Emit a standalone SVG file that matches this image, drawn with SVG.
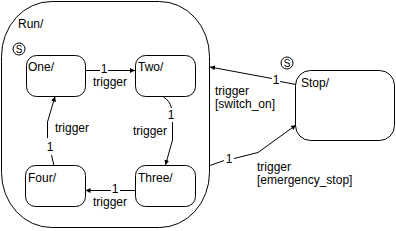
<svg xmlns="http://www.w3.org/2000/svg" width="396" height="231" viewBox="0 0 396 231">
<style>
text{font-family:"Liberation Sans",Arial,sans-serif;font-size:12px;fill:#000}
.st{fill:#fff;stroke:#000;stroke-width:1}
.ln{fill:none;stroke:#000;stroke-width:1}
.s{font-size:10px}
</style>
<defs>
<marker id="ah" markerWidth="6" markerHeight="6" refX="5" refY="3" orient="auto" markerUnits="userSpaceOnUse">
<path d="M0,0.5 L5,3 L0,5.5 Z" fill="#000"/>
</marker>
</defs>
<rect width="396" height="231" fill="#fff"/>
<g id="Run">
<rect class="st" x="1.5" y="1.5" width="208" height="226" rx="50" ry="55"/>
<text x="18" y="28">Run/</text>
<circle class="ln" cx="19" cy="49" r="6"/>
<text class="s" x="19" y="52.5" text-anchor="middle">S</text>
</g>
<g id="One">
<rect class="st" x="26.5" y="55.5" width="59" height="41" rx="10"/>
<text x="28" y="71">One/</text>
</g>
<g id="Two">
<rect class="st" x="135.5" y="55.5" width="60" height="41" rx="10"/>
<text x="138" y="71">Two/</text>
</g>
<g id="Four">
<rect class="st" x="25.5" y="165.5" width="60" height="41" rx="10"/>
<text x="28" y="182">Four/</text>
</g>
<g id="Three">
<rect class="st" x="135.5" y="165.5" width="60" height="41" rx="10"/>
<text x="138" y="182">Three/</text>
</g>
<g id="Stop">
<rect class="st" x="295.5" y="70.5" width="99" height="70" rx="15"/>
<text x="301" y="87">Stop/</text>
<circle class="ln" cx="287" cy="63" r="6"/>
<text class="s" x="287" y="66.5" text-anchor="middle">S</text>
</g>
<g id="connectors">
<path class="ln" d="M85.5,70.5 H100"/>
<path class="ln" d="M108,70.5 H135" marker-end="url(#ah)"/>
<text x="104" y="72.5" text-anchor="middle">1</text>
<text x="93" y="86">trigger</text>

<path class="ln" d="M163.5,97 Q170,101 171.5,108"/>
<text x="171" y="119" text-anchor="middle">1</text>
<path class="ln" d="M172.5,122 V140 L165.5,165" marker-end="url(#ah)"/>
<text x="133" y="135">trigger</text>

<path class="ln" d="M135,190.5 H120"/>
<path class="ln" d="M111,190.5 H85.5" marker-end="url(#ah)"/>
<text x="115" y="192.5" text-anchor="middle">1</text>
<text x="93" y="206">trigger</text>

<path class="ln" d="M54,166 L51.5,155"/>
<text x="50" y="151" text-anchor="middle">1</text>
<path class="ln" d="M47.5,138 V122 L55,96.5" marker-end="url(#ah)"/>
<text x="55" y="132">trigger</text>

<path class="ln" d="M296,84.5 L280,81.5"/>
<path class="ln" d="M272,78.5 L210,67" marker-end="url(#ah)"/>
<text x="276" y="84" text-anchor="middle">1</text>
<text x="215" y="95">trigger</text>
<text x="215" y="108">[switch_on]</text>

<path class="ln" d="M210,165.5 L224,160.5"/>
<path class="ln" d="M234,158.5 L258,152.5 L296,125" marker-end="url(#ah)"/>
<text x="229" y="163" text-anchor="middle">1</text>
<text x="257" y="171">trigger</text>
<text x="257" y="184">[emergency_stop]</text>
</g>
</svg>
